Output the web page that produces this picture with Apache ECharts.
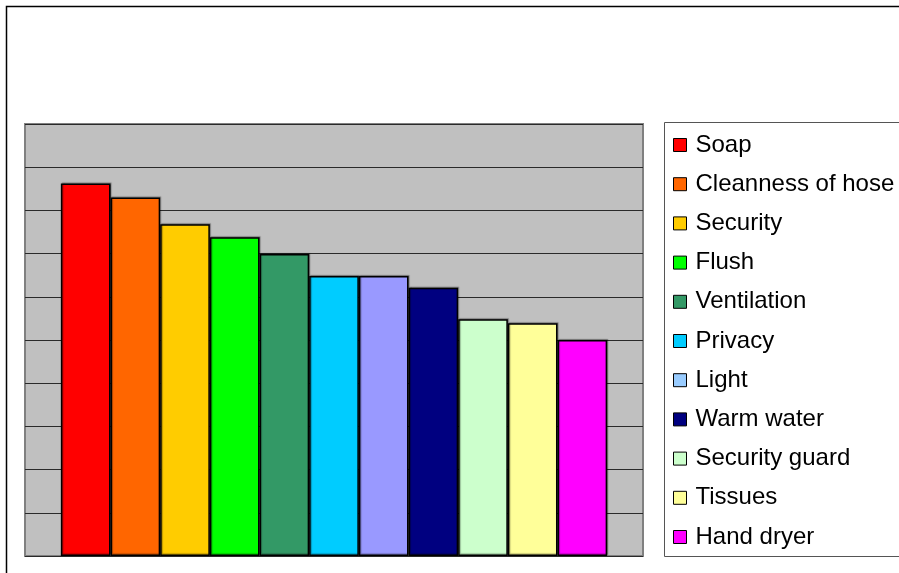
<!DOCTYPE html>
<html>
<head>
<meta charset="utf-8">
<title>Toilet facility ratings</title>
<script src="https://cdn.jsdelivr.net/npm/echarts@6/dist/echarts.min.js"></script>
<style>
  html, body { margin: 0; padding: 0; background: #ffffff; }
  #chart { width: 899px; height: 573px; }
</style>
</head>
<body>
<div id="chart"></div>
<script>
// Facilities, their scores and fill colours
const facilities = ['Soap', 'Cleanness of hose', 'Security', 'Flush', 'Ventilation', 'Privacy',
  'Light', 'Warm water', 'Security guard', 'Tissues', 'Hand dryer'];
const scores = [8.62, 8.30, 7.68, 7.38, 6.99, 6.48, 6.48, 6.21, 5.48, 5.39, 5.00];
const barColors = ['#FF0000', '#FF6600', '#FFCC00', '#00FF00', '#339966', '#00CCFF',
  '#9999FF', '#000080', '#CCFFCC', '#FFFF99', '#FF00FF'];
const legendColors = ['#FF0000', '#FF6600', '#FFCC00', '#00FF00', '#339966', '#00CCFF',
  '#99CCFF', '#000080', '#CCFFCC', '#FFFF99', '#FF00FF'];
const yTicks = [0, 1, 2, 3, 4, 5, 6, 7, 8, 9, 10];

const chart = echarts.init(document.getElementById('chart'), null, { renderer: 'canvas' });

const series = facilities.map((name, i) => ({
  name: name,
  type: 'bar',
  data: [scores[i]],
  barGap: '0%',
  barCategoryGap: '11.6%',
  itemStyle: {
    color: barColors[i],
    borderColor: '#000000',
    borderWidth: 1.5,
    shadowColor: 'rgba(0,0,0,0.35)',
    shadowBlur: 1,
    shadowOffsetX: 1,
    shadowOffsetY: -1
  },
  emphasis: { disabled: true },
  animation: false
}));

chart.setOption({
  backgroundColor: '#ffffff',
  animation: false,
  graphic: [
    {
      type: 'rect',
      shape: { x: 6.5, y: 6.5, width: 1200, height: 1200 },
      style: { fill: 'none', stroke: '#000000', lineWidth: 1.5 },
      silent: true
    },
    {
      type: 'rect',
      shape: { x: 664.5, y: 122.5, width: 400, height: 434 },
      style: { fill: '#ffffff', stroke: '#555555', lineWidth: 1 },
      silent: true,
      z: -1
    }
  ],
  grid: {
    left: 25, top: 124, width: 618, height: 432,
    show: true,
    backgroundColor: '#C0C0C0',
    borderColor: '#808080',
    borderWidth: 2
  },
  legend: {
    orient: 'vertical',
    left: 673,
    top: 133,
    padding: 0,
    itemGap: 15.2,
    itemWidth: 13,
    itemHeight: 13,
    icon: 'rect',
    selectedMode: false,
    itemStyle: { borderColor: '#000000', borderWidth: 1 },
    textStyle: {
      fontFamily: 'Liberation Sans, Arial, sans-serif',
      fontSize: 24,
      lineHeight: 24,
      color: '#000000',
      padding: [0, 0, 0, 4]
    },
    data: facilities.map((name, i) => ({ name: name, itemStyle: { color: legendColors[i] } }))
  },
  xAxis: {
    type: 'category',
    data: [''],
    axisLine: { show: false },
    axisTick: { show: false },
    axisLabel: { show: false }
  },
  yAxis: {
    type: 'value',
    min: yTicks[0],
    max: yTicks[yTicks.length - 1],
    interval: 1,
    axisLine: { show: false },
    axisTick: { show: false },
    axisLabel: { show: false },
    splitLine: { lineStyle: { color: '#2a2a2a', width: 1 } }
  },
  series: series
});
</script>
</body>
</html>
